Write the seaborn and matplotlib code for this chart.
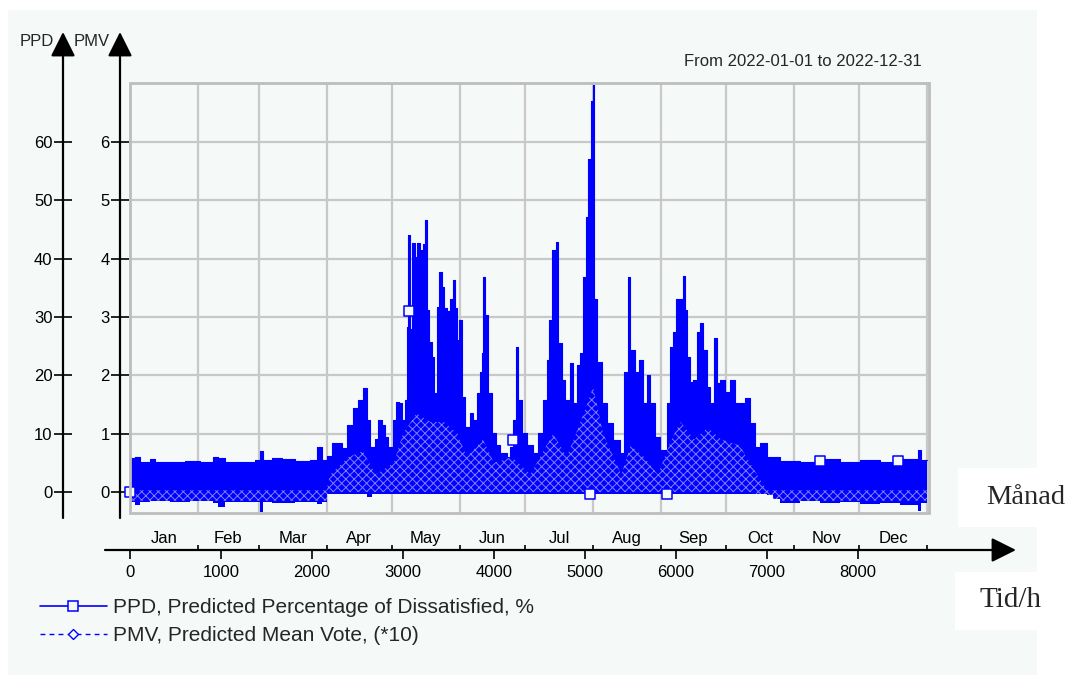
import matplotlib
matplotlib.use("Agg")
import matplotlib.pyplot as plt
import seaborn as sns
import pandas as pd
from matplotlib.transforms import blended_transform_factory
from matplotlib.lines import Line2D
from matplotlib.patches import Rectangle, FancyArrowPatch

# ---------------------------------------------------------------- data
# Upper envelope of the PPD trace (%), hour of year -> value
hours = [0, 55, 110, 220, 275, 440, 605, 770, 910, 965, 1045, 1210, 1375, 1430, 1460,
         1560, 1670, 1815, 1980, 2055, 2110,
         2165, 2220, 2285, 2330, 2385, 2450, 2505, 2560, 2605, 2640, 2690, 2725, 2770,
         2800, 2835,
         2890, 2925, 2955, 2990, 3020, 3045, 3055, 3075, 3100, 3130, 3155, 3185, 3220,
         3240, 3265, 3285, 3320, 3340, 3375, 3395, 3430, 3450, 3485, 3515, 3550, 3570,
         3595,
         3615, 3650, 3680, 3735, 3770, 3815, 3845, 3870, 3880, 3900, 3935, 3980, 4020,
         4065, 4145, 4175, 4210, 4240, 4265, 4310,
         4365, 4430, 4485, 4540, 4585, 4605, 4640, 4680, 4705, 4745, 4780, 4835, 4870,
         4910, 4945, 4980, 5010, 5035, 5065, 5090,
         5100, 5130, 5185, 5240, 5310, 5385, 5430, 5475, 5495, 5550, 5595, 5640, 5680,
         5715, 5770, 5825,
         5900, 5935, 5965, 6000, 6035, 6080, 6100, 6120, 6155, 6185, 6230, 6265, 6295,
         6340, 6375, 6420, 6450, 6485, 6540,
         6595, 6650, 6705, 6760, 6815, 6870, 6925, 7000, 7065, 7145, 7365, 7585, 7805,
         8025, 8245, 8460, 8660, 8690, 8760]
ppd_max = [5.8, 6.0, 5.2, 5.7, 5.2, 5.2, 5.3, 5.2, 6.0, 5.8, 5.2, 5.2, 5.4, 7.0, 5.4,
           5.8, 5.7, 5.3, 5.4, 7.7, 5.5,
           6.2, 8.4, 8.4, 7.5, 11.5, 14.4, 15.8, 17.8, 12.3, 7.7, 9.0, 12.3, 11.5,
           9.4, 7.7,
           12.3, 15.4, 15.2, 12.3, 15.8, 28.3, 44.0, 28.0, 42.7, 40.3, 42.7, 41.5, 42.5,
           46.7, 31.2, 25.7, 23.2, 17.0, 31.7, 37.7, 35.2, 31.5, 31.0, 33.0, 36.4, 31.5,
           26.0,
           29.5, 16.3, 11.1, 13.5, 12.3, 17.0, 20.5, 23.8, 36.9, 30.4, 17.0, 10.1, 8.0,
           6.7, 6.0, 7.7, 12.3, 24.9, 15.8, 10.1,
           8.0, 6.7, 10.1, 15.8, 22.6, 29.5, 41.5, 42.9, 25.6, 19.2, 15.8, 22.1, 15.3,
           21.8, 23.8, 36.9, 47.2, 57.0, 67.0, 69.8,
           33.0, 22.3, 15.3, 11.8, 8.9, 6.7, 20.6, 36.9, 24.4, 20.6, 22.6, 15.3, 20.0,
           15.3, 9.4, 7.2,
           15.3, 24.9, 27.4, 33.0, 33.0, 37.0, 31.2, 23.2, 18.9, 19.2, 27.4, 29.0, 24.4,
           18.0, 15.3, 26.4, 18.7, 19.2, 17.2,
           19.2, 15.3, 15.3, 16.1, 11.8, 7.7, 8.4, 6.0, 6.0, 5.3, 5.2, 5.6, 5.2,
           5.4, 5.2, 5.6, 7.2, 5.4, 5.4]

# Lower envelope of the plotted values (negative part comes from PMV*10)
low_hours = [0, 55, 110, 220, 440, 660, 910, 965, 1045, 1210, 1430, 1460, 1560, 1815,
             2055, 2110, 2165, 2560, 2605, 2660, 2800, 4000, 5000, 6000, 7000, 7065,
             7145, 7365, 7585, 7805, 8025, 8245, 8460, 8660, 8690, 8760]
low_vals = [-1.8, -2.2, -1.8, -1.5, -1.7, -1.6, -1.9, -2.6, -1.8, -1.7, -3.4, -1.8, -1.9,
            -1.8, -2.0, -1.8, -0.3, -0.4, -0.9, -0.4, -0.3, -0.4, -0.3, -0.4, -0.6, -1.2,
            -1.9, -1.6, -1.9, -1.8, -2.1, -1.9, -2.2, -3.3, -1.9, -1.9]

# Daily swing band of PMV*10 inside the PPD trace
pmv_hours = [0, 2160, 2200, 2400, 2560, 2700, 2900, 3000, 3150, 3300, 3450, 3600, 3700,
             3880, 4000, 4200, 4400, 4650, 4800, 5000, 5090, 5200, 5400, 5500, 5650,
             5800, 5950, 6050, 6200, 6350, 6500, 6700, 6850, 7000, 8760]
pmv10_max = [0.3, 0.3, 3, 6, 7, 3, 5, 10, 13.5, 12, 12, 10, 6, 9, 5, 6, 3, 10, 6, 14,
             18, 10, 3, 8, 6, 3, 9, 12, 9, 11, 9, 8, 4, 0.3, 0.3]
pmv10_min = [-1.5, -1.5, 0, 0, 0, 0, 0, 0, 0, 0, 0, 0, 0, 0, 0, 0, 0, 0, 0, 0,
             0, 0, 0, 0, 0, 0, 0, 0, 0, 0, 0, 0, 0, -1.5, -1.5]

# PPD marker positions along the trace
marker_hours = [0, 3065, 4210, 5055, 5900, 7585, 8440]
marker_vals = [0, 31.0, 8.9, -0.3, -0.3, 5.3, 5.3]

month_names = ["Jan", "Feb", "Mar", "Apr", "May", "Jun",
               "Jul", "Aug", "Sep", "Oct", "Nov", "Dec"]
month_days = [31, 28, 31, 30, 31, 30, 31, 31, 30, 31, 30, 31]
hour_ticks = [0, 1000, 2000, 3000, 4000, 5000, 6000, 7000, 8000]
ppd_ticks = [0, 10, 20, 30, 40, 50, 60]
pmv_tick_labels = ["0", "1", "2", "3", "4", "5", "6"]

# ---------------------------------------------------------------- style
sns.set_theme(style="white")
plt.rcParams["font.family"] = ["Liberation Sans", "DejaVu Sans"]
plt.rcParams["hatch.linewidth"] = 0.7

BLUE = "#0000ff"
BG = "#f5f9f7"
GRID = "#c8c8c8"

W, H = 1069, 685
PT = 0.72  # points per pixel at 100 dpi
fig = plt.figure(figsize=(W / 100, H / 100), dpi=100, facecolor="white")


def fx(x):
    return x / W


def fy(y):
    return 1 - y / H


def frect(x0, y0, x1, y1, color):
    fig.add_artist(Rectangle((fx(x0), fy(y1)), fx(x1) - fx(x0), fy(y0) - fy(y1),
                             transform=fig.transFigure, facecolor=color,
                             edgecolor="none", zorder=-20))


frect(8, 10, 1037, 675, BG)
frect(958, 468, 1037, 527, "white")
frect(955, 572, 1037, 630, "white")

ax = fig.add_axes([fx(130), fy(513), (929 - 130) / W, (513 - 83) / H])
ax.set_facecolor(BG)
ax.set_xlim(0, 8781)
ax.set_ylim(-3.6, 70.1)

month_bounds = [0]
for d in month_days:
    month_bounds.append(month_bounds[-1] + d * 24)
month_centers = [(a + b) / 2 for a, b in zip(month_bounds[:-1], month_bounds[1:])]

# ---------------------------------------------------------------- trace
env = pd.DataFrame({"hour": hours, "ppd": ppd_max})
ax.fill_between(hours, 1.0, ppd_max, step="post", color=BLUE, lw=0, zorder=2)
ax.fill_between(low_hours, low_vals, 1.0, step="post", color=BLUE, lw=0, zorder=2)
sns.lineplot(data=env, x="hour", y="ppd", ax=ax, color=BLUE, lw=0.8,
             drawstyle="steps-post", zorder=2, legend=False)
ax.fill_between(pmv_hours, pmv10_min, pmv10_max, color="none",
                edgecolor=(1, 1, 1, 0.5), hatch="xxxx", lw=0, zorder=2.5)
sns.scatterplot(x=marker_hours, y=marker_vals, ax=ax, marker="s", s=42,
                facecolor=BG, edgecolor=BLUE, linewidth=1.1, zorder=4, clip_on=False)
ax.set_xlabel("")
ax.set_ylabel("")

# ---------------------------------------------------------------- grid / frame
ax.set_axisbelow(True)
ax.set_xticks(month_bounds, minor=True)
ax.grid(which="minor", axis="x", color=GRID, lw=1.6)
ax.grid(which="major", axis="y", color=GRID, lw=1.6)
ax.grid(which="major", axis="x", visible=False)
ax.add_patch(Rectangle((0, 0), 1, 1, transform=ax.transAxes, fill=False,
                       edgecolor="#bdbdbd", lw=2, zorder=5, clip_on=False))
for s in ax.spines.values():
    s.set_visible(False)

# PMV axis (inner left)
ax.spines["left"].set_position(("outward", 10 * PT))
ax.set_yticks(ppd_ticks)
ax.set_yticklabels(pmv_tick_labels)
ax.tick_params(axis="y", which="major", direction="inout", length=13, width=1.2,
               pad=1.0, labelsize=12, colors="black", left=True)

# time axis (bottom): hours as major ticks, month boundaries as minor ticks
ax.spines["bottom"].set_position(("outward", 37 * PT))
ax.set_xticks(hour_ticks)
ax.set_xticklabels([str(h) for h in hour_ticks])
ax.tick_params(axis="x", which="major", direction="out", length=6.5, width=1.2,
               pad=4, labelsize=12, colors="black", bottom=True)
ax.tick_params(axis="x", which="minor", direction="in", length=3.5, width=1.2,
               colors="black", bottom=True)

# PPD axis (outer left)
tw = ax.twinx()
tw.set_ylim(ax.get_ylim())
tw.yaxis.tick_left()
tw.spines["left"].set_position(("outward", 67 * PT))
for s in tw.spines.values():
    s.set_visible(False)
tw.set_yticks(ppd_ticks)
tw.set_yticklabels([str(v) for v in ppd_ticks])
tw.tick_params(axis="y", direction="inout", length=13, width=1.2, pad=1.0,
               labelsize=12, colors="black", left=True, right=False)
tw.grid(False)

trans = blended_transform_factory(ax.transData, fig.transFigure)
for c, name in zip(month_centers, month_names):
    ax.text(c, fy(543), name, transform=trans, ha="center", va="baseline",
            fontsize=12, color="black")

# ---------------------------------------------------------------- axis arrows
def arrow(x0, y0, x1, y1):
    fig.add_artist(FancyArrowPatch((fx(x0), fy(y0)), (fx(x1), fy(y1)),
                                   transform=fig.transFigure,
                                   arrowstyle="-|>,head_length=1.0,head_width=0.5",
                                   mutation_scale=15, lw=1.6, color="black",
                                   shrinkA=0, shrinkB=0, zorder=6))


arrow(63, 518, 63, 32)
arrow(120, 518, 120, 32)
arrow(105, 550, 1016, 550)

fig.text(fx(37), fy(41), "PPD", ha="center", va="center", fontsize=12)
fig.text(fx(92), fy(41), "PMV", ha="center", va="center", fontsize=12)
fig.text(fx(922), fy(61), "From 2022-01-01 to 2022-12-31", ha="right",
         va="center", fontsize=12)
fig.text(fx(1026), fy(497), "Månad", ha="center", va="center", fontsize=20.5,
         family=["Liberation Serif", "DejaVu Serif"])
fig.text(fx(1010), fy(600), "Tid/h", ha="center", va="center", fontsize=21,
         family=["Liberation Serif", "DejaVu Serif"])

# ---------------------------------------------------------------- legend
handles = [
    Line2D([], [], color=BLUE, lw=1.2, marker="s", ms=7, mfc=BG, mec=BLUE, mew=1.1),
    Line2D([], [], color=BLUE, lw=1.0, ls=(0, (3.5, 3)), marker="D", ms=5.5,
           mfc=BG, mec=BLUE, mew=1.0),
]
labels = ["PPD, Predicted Percentage of Dissatisfied, %",
          "PMV, Predicted Mean Vote, (*10)"]
fig.legend(handles, labels, loc="upper left", bbox_to_anchor=(fx(40), fy(598)),
           frameon=False, fontsize=15, handlelength=3.2, handletextpad=0.3,
           labelspacing=0.45, borderpad=0, borderaxespad=0)

fig.savefig("out.png", dpi=100, facecolor="white")
